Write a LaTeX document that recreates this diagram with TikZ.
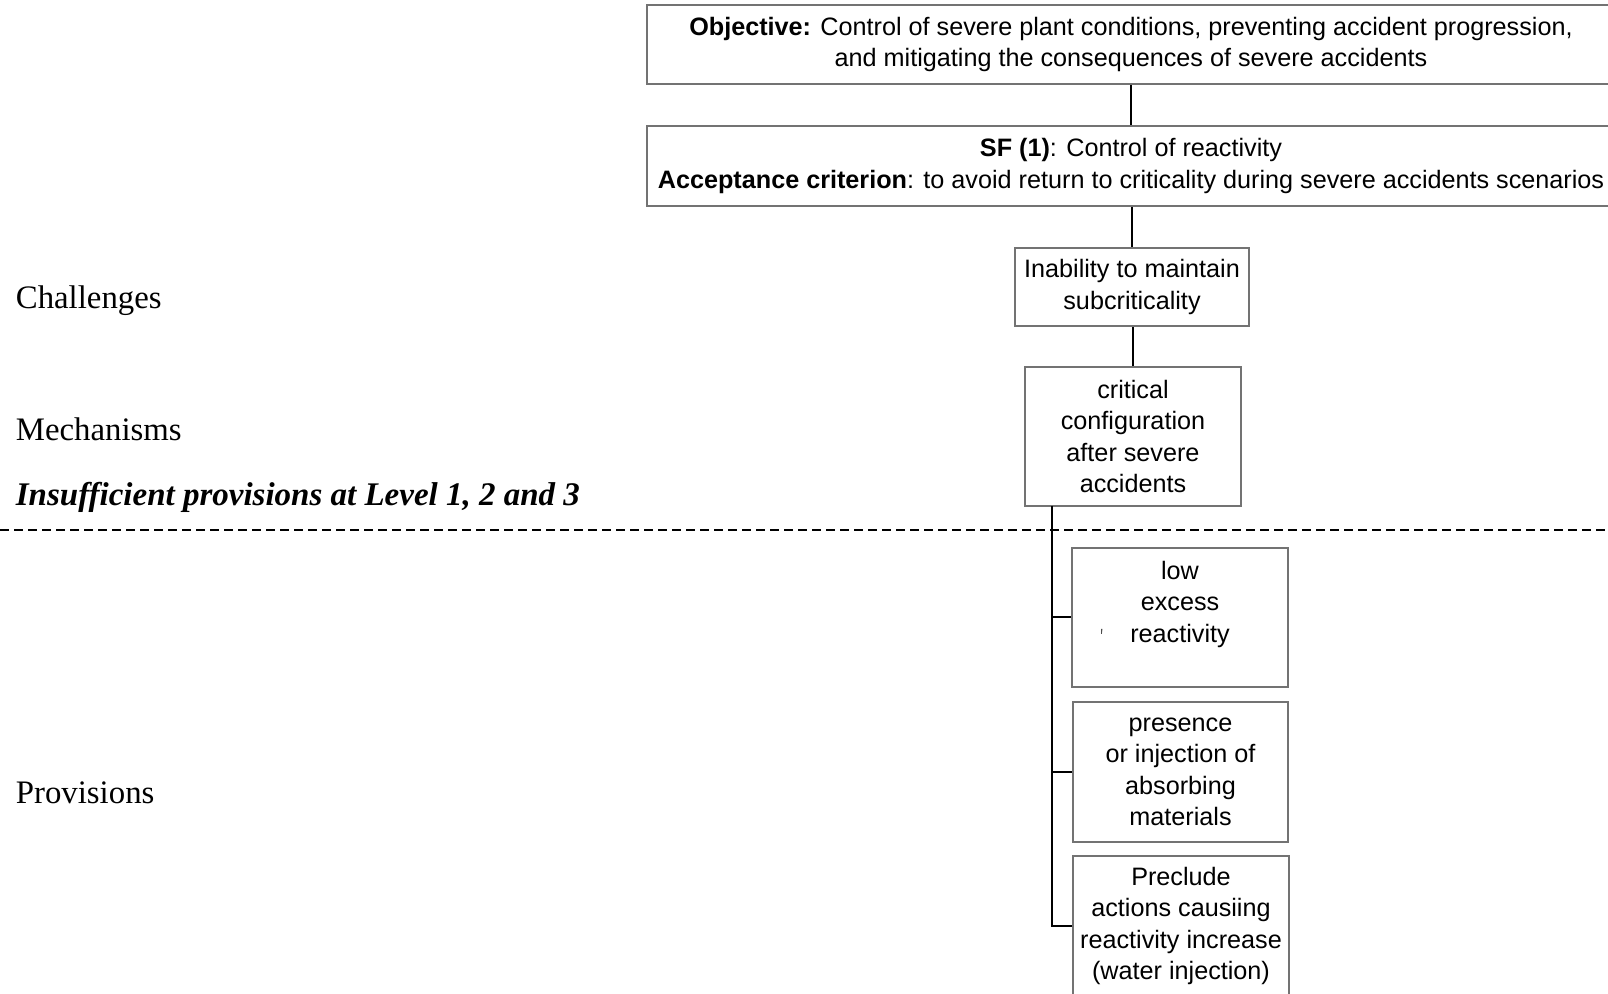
\documentclass[tikz,border=0pt]{standalone}
\usepackage{fontspec}
\setmainfont{Liberation Serif}
\newfontfamily\boxfont{Liberation Sans}
\usetikzlibrary{calc}

\tikzset{
  fbox/.style={draw=black!55, line width=0.9pt, align=center, inner sep=0pt,
    font=\boxfont\fontsize{12.6}{15.7}\selectfont},
  link/.style={draw=black, line width=1pt},
  rowlabel/.style={anchor=west, inner sep=0pt,
    font=\fontsize{16.4}{19}\selectfont},
  divider/.style={draw=black, line width=1pt, dash pattern=on 4.5pt off 2.5pt}
}

\begin{document}
\begin{tikzpicture}[x=0.5pt, y=-0.5pt]
  \useasboundingbox (0,0) rectangle (1608,994);
  \fill[white] (0,0) rectangle (1608,994);

  % top level boxes (running off the right edge)
  \node[fbox, minimum width=484pt, minimum height=39.5pt] (obj) at (1131,44.5)
    {\textbf{Objective:} Control of severe plant conditions, preventing accident progression,\\
     and mitigating the consequences of severe accidents};
  \node[fbox, minimum width=484pt, minimum height=40pt] (sf) at (1131,166)
    {\textbf{SF (1)}: Control of reactivity\\
     \textbf{Acceptance criterion}: to avoid return to criticality during severe accidents scenarios};

  % challenge and mechanism
  \node[fbox, minimum width=117pt, minimum height=39pt] (inab) at (1132,287)
    {Inability to maintain\\subcriticality};
  \node[fbox, minimum width=108pt, minimum height=69.5pt] (crit) at (1133,436.5)
    {critical\\configuration\\after severe\\accidents};

  % provisions
  \node[fbox, minimum width=108pt, minimum height=69.5pt] (low) at (1180,617.5)
    {low\\excess\\reactivity\\\mbox{}};
  \node[fbox, minimum width=107.5pt, minimum height=70pt] (pres) at (1180.5,772)
    {presence\\or injection of\\absorbing\\materials};
  \node[fbox, minimum width=108pt, minimum height=70pt] (prec) at (1181,926)
    {Preclude\\actions causiing\\reactivity increase\\(water injection)};

  % small speck inside the first provision box
  \fill[black!70] (1101,629) -- (1102.4,629) -- (1101.8,634) -- (1101.2,634) -- cycle;

  % row labels
  \node[rowlabel] (lchal) at (15.5,301) {Challenges};
  \node[rowlabel] (lmech) at (15.5,429) {Mechanisms};
  \node[rowlabel, font=\fontsize{16.5}{19}\selectfont\bfseries\itshape] (lins) at (15.5,497)
    {Insufficient provisions at Level 1, 2 and 3};
  \node[rowlabel] (lprov) at (15.5,793) {Provisions};

  % divider between levels
  \coordinate (dl) at (0,530);
  \coordinate (dr) at (1608,530);
  \draw[divider] (dl) -- (dr);

  % connectors
  \draw[link] (obj.south) -- (sf.north);
  \draw[link] (inab.north) -- (inab.north |- sf.south);
  \draw[link] (crit.north) -- (crit.north |- inab.south);
  \coordinate (trunk) at (1052,506);
  \draw[link] (trunk) |- (prec.west);
  \draw[link] (trunk |- low.west) -- (low.west);
  \draw[link] (trunk |- pres.west) -- (pres.west);
\end{tikzpicture}
\end{document}
